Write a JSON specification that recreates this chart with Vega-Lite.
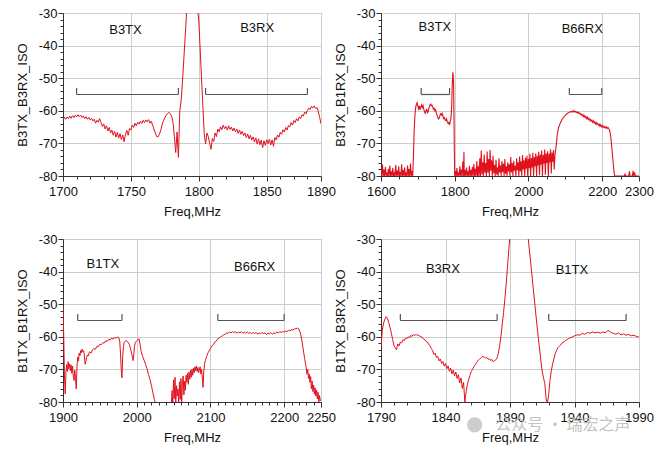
{
  "$schema": "https://vega.github.io/schema/vega-lite/v6.json",
  "padding": {"left": 15, "top": 6, "right": 4, "bottom": 3},
  "datasets": {
    "p1": [
      {"f":1700,"v":-62.8},{"f":1701,"v":-62.0},{"f":1702,"v":-62.6},{"f":1703,"v":-61.9},{"f":1704,"v":-62.4},{"f":1705,"v":-61.6},{"f":1706,"v":-62.3},{"f":1707,"v":-61.5},{"f":1708,"v":-62.1},{"f":1709,"v":-61.4},
      {"f":1710,"v":-61.9},{"f":1711,"v":-61.2},{"f":1712,"v":-61.8},{"f":1713,"v":-61.3},{"f":1714,"v":-62.0},{"f":1715,"v":-61.6},{"f":1716,"v":-62.4},{"f":1717,"v":-61.8},{"f":1718,"v":-62.6},{"f":1719,"v":-62.0},
      {"f":1720,"v":-62.8},{"f":1721,"v":-62.3},{"f":1722,"v":-63.1},{"f":1723,"v":-62.6},{"f":1724,"v":-63.8},{"f":1725,"v":-62.9},{"f":1726,"v":-63.5},{"f":1727,"v":-62.4},{"f":1728,"v":-63.6},{"f":1729,"v":-64.8},
      {"f":1730,"v":-64.0},{"f":1731,"v":-65.6},{"f":1732,"v":-64.6},{"f":1733,"v":-66.2},{"f":1734,"v":-65.1},{"f":1735,"v":-66.8},{"f":1736,"v":-65.9},{"f":1737,"v":-67.5},{"f":1738,"v":-66.3},{"f":1739,"v":-68.1},
      {"f":1740,"v":-66.6},{"f":1741,"v":-68.4},{"f":1742,"v":-67.0},{"f":1743,"v":-68.8},{"f":1744,"v":-67.4},{"f":1745,"v":-69.5},{"f":1746,"v":-67.2},{"f":1747,"v":-66.0},{"f":1748,"v":-67.5},{"f":1749,"v":-65.4},
      {"f":1750,"v":-65.9},{"f":1751,"v":-64.4},{"f":1752,"v":-65.1},{"f":1753,"v":-63.8},{"f":1754,"v":-64.6},{"f":1755,"v":-63.5},{"f":1756,"v":-64.1},{"f":1757,"v":-63.2},{"f":1758,"v":-63.9},{"f":1759,"v":-62.9},
      {"f":1760,"v":-63.6},{"f":1761,"v":-62.8},{"f":1762,"v":-63.4},{"f":1763,"v":-62.7},{"f":1764,"v":-63.8},{"f":1765,"v":-63.2},{"f":1766,"v":-64.4},{"f":1767,"v":-65.6},{"f":1768,"v":-66.8},{"f":1769,"v":-67.9},
      {"f":1770,"v":-68.0},{"f":1771,"v":-67.2},{"f":1772,"v":-66.0},{"f":1773,"v":-64.2},{"f":1774,"v":-63.0},{"f":1775,"v":-62.1},{"f":1776,"v":-61.4},{"f":1777,"v":-60.8},{"f":1778,"v":-60.5},{"f":1779,"v":-60.9},
      {"f":1780,"v":-61.6},{"f":1781,"v":-63.5},{"f":1782,"v":-67.8},{"f":1783,"v":-72.8},{"f":1784,"v":-66.5},{"f":1785,"v":-74.3},{"f":1786,"v":-60.0},{"f":1787,"v":-57.0},{"f":1788,"v":-51.0},{"f":1789,"v":-44.0},
      {"f":1790,"v":-37.0},{"f":1791,"v":-30.0},{"f":1792,"v":-24.0},{"f":1795,"v":-20.0},{"f":1798,"v":-24.0},{"f":1799,"v":-28.0},{"f":1800,"v":-32.5},{"f":1801,"v":-41.0},{"f":1802,"v":-50.0},{"f":1803,"v":-58.5},
      {"f":1804,"v":-67.0},{"f":1805,"v":-70.2},{"f":1806,"v":-66.8},{"f":1807,"v":-67.9},{"f":1808,"v":-70.0},{"f":1809,"v":-71.8},{"f":1810,"v":-68.5},{"f":1811,"v":-69.4},{"f":1812,"v":-66.8},{"f":1813,"v":-67.9},
      {"f":1814,"v":-65.6},{"f":1815,"v":-66.4},{"f":1816,"v":-64.9},{"f":1817,"v":-65.8},{"f":1818,"v":-64.4},{"f":1819,"v":-65.5},{"f":1820,"v":-64.8},{"f":1821,"v":-65.9},{"f":1822,"v":-64.6},{"f":1823,"v":-65.7},
      {"f":1824,"v":-65.0},{"f":1825,"v":-66.2},{"f":1826,"v":-65.3},{"f":1827,"v":-66.4},{"f":1828,"v":-65.6},{"f":1829,"v":-66.9},{"f":1830,"v":-65.9},{"f":1831,"v":-67.2},{"f":1832,"v":-66.3},{"f":1833,"v":-67.6},
      {"f":1834,"v":-66.8},{"f":1835,"v":-68.2},{"f":1836,"v":-67.1},{"f":1837,"v":-68.6},{"f":1838,"v":-67.5},{"f":1839,"v":-69.0},{"f":1840,"v":-68.0},{"f":1841,"v":-69.6},{"f":1842,"v":-68.3},{"f":1843,"v":-70.2},
      {"f":1844,"v":-68.6},{"f":1845,"v":-70.4},{"f":1846,"v":-69.0},{"f":1847,"v":-71.3},{"f":1848,"v":-69.2},{"f":1849,"v":-70.6},{"f":1850,"v":-68.9},{"f":1851,"v":-70.1},{"f":1852,"v":-68.7},{"f":1853,"v":-70.5},
      {"f":1854,"v":-68.9},{"f":1855,"v":-70.9},{"f":1856,"v":-68.2},{"f":1857,"v":-68.9},{"f":1858,"v":-67.4},{"f":1859,"v":-68.1},{"f":1860,"v":-66.6},{"f":1861,"v":-67.2},{"f":1862,"v":-65.8},{"f":1863,"v":-66.5},
      {"f":1864,"v":-65.1},{"f":1865,"v":-65.9},{"f":1866,"v":-64.5},{"f":1867,"v":-65.0},{"f":1868,"v":-63.6},{"f":1869,"v":-64.4},{"f":1870,"v":-63.0},{"f":1871,"v":-63.6},{"f":1872,"v":-62.4},{"f":1873,"v":-63.1},
      {"f":1874,"v":-61.9},{"f":1875,"v":-62.4},{"f":1876,"v":-61.2},{"f":1877,"v":-61.6},{"f":1878,"v":-60.4},{"f":1879,"v":-60.9},{"f":1880,"v":-59.8},{"f":1881,"v":-59.2},{"f":1882,"v":-59.6},{"f":1883,"v":-58.6},
      {"f":1884,"v":-59.1},{"f":1885,"v":-58.5},{"f":1886,"v":-59.3},{"f":1887,"v":-59.0},{"f":1888,"v":-60.2},{"f":1889,"v":-62.0},{"f":1890,"v":-64.0}
    ],
    "p2": [
      {"f":1600,"v":-78.5},{"f":1602,"v":-80},{"f":1604,"v":-76.5},{"f":1606,"v":-80},{"f":1608,"v":-78.0},{"f":1610,"v":-80},{"f":1612,"v":-77.2},{"f":1614,"v":-80},{"f":1616,"v":-79.0},{"f":1618,"v":-80},
      {"f":1620,"v":-77.8},{"f":1622,"v":-80},{"f":1624,"v":-76.8},{"f":1626,"v":-80},{"f":1628,"v":-78.6},{"f":1630,"v":-80},{"f":1632,"v":-77.5},{"f":1634,"v":-80},{"f":1636,"v":-79.2},{"f":1638,"v":-80},
      {"f":1640,"v":-76.6},{"f":1642,"v":-80},{"f":1644,"v":-78.3},{"f":1646,"v":-80},{"f":1648,"v":-77.0},{"f":1650,"v":-80},{"f":1652,"v":-78.8},{"f":1654,"v":-80},{"f":1656,"v":-76.4},{"f":1658,"v":-80},
      {"f":1660,"v":-78.2},{"f":1662,"v":-80},{"f":1664,"v":-77.4},{"f":1666,"v":-80},{"f":1668,"v":-79.0},{"f":1670,"v":-80},{"f":1672,"v":-76.8},{"f":1674,"v":-80},{"f":1676,"v":-77.9},{"f":1678,"v":-80},
      {"f":1680,"v":-76.2},{"f":1682,"v":-80},{"f":1684,"v":-78.5},{"f":1686,"v":-80},{"f":1688,"v":-74.0},{"f":1690,"v":-66.0},{"f":1692,"v":-61.5},{"f":1694,"v":-59.0},{"f":1696,"v":-58.0},{"f":1698,"v":-57.5},
      {"f":1700,"v":-58.6},{"f":1702,"v":-59.4},{"f":1704,"v":-58.5},{"f":1706,"v":-59.7},{"f":1708,"v":-58.9},{"f":1710,"v":-58.2},{"f":1712,"v":-59.0},{"f":1714,"v":-58.4},{"f":1716,"v":-59.5},{"f":1718,"v":-60.2},
      {"f":1720,"v":-60.8},{"f":1722,"v":-60.1},{"f":1724,"v":-59.4},{"f":1726,"v":-60.6},{"f":1728,"v":-60.3},{"f":1730,"v":-59.2},{"f":1732,"v":-58.5},{"f":1734,"v":-58.0},{"f":1736,"v":-58.4},{"f":1738,"v":-58.2},
      {"f":1740,"v":-58.8},{"f":1742,"v":-59.5},{"f":1744,"v":-59.2},{"f":1746,"v":-60.0},{"f":1748,"v":-59.7},{"f":1750,"v":-60.6},{"f":1752,"v":-61.4},{"f":1754,"v":-62.0},{"f":1756,"v":-62.5},{"f":1758,"v":-62.2},
      {"f":1760,"v":-61.4},{"f":1762,"v":-60.9},{"f":1764,"v":-61.3},{"f":1766,"v":-60.8},{"f":1768,"v":-61.6},{"f":1770,"v":-62.4},{"f":1772,"v":-62.1},{"f":1774,"v":-62.8},{"f":1776,"v":-63.0},{"f":1778,"v":-62.5},
      {"f":1780,"v":-63.4},{"f":1782,"v":-63.9},{"f":1784,"v":-63.6},{"f":1786,"v":-64.3},{"f":1788,"v":-63.0},{"f":1790,"v":-62.3},{"f":1792,"v":-58.0},{"f":1793,"v":-53.0},{"f":1795,"v":-48.2},{"f":1796,"v":-49.0},
      {"f":1797,"v":-52.0},{"f":1798,"v":-62.0},{"f":1799,"v":-72.0},{"f":1800,"v":-80},{"f":1802,"v":-78.5},{"f":1804,"v":-80},{"f":1806,"v":-77.6},{"f":1808,"v":-80},{"f":1810,"v":-78.9},{"f":1812,"v":-80},
      {"f":1814,"v":-77.0},{"f":1816,"v":-80},{"f":1818,"v":-78.0},{"f":1820,"v":-80},{"f":1822,"v":-75.5},{"f":1824,"v":-80},{"f":1825,"v":-72.6},{"f":1826,"v":-80},{"f":1828,"v":-78.2},{"f":1830,"v":-80},
      {"f":1832,"v":-77.4},{"f":1834,"v":-80},{"f":1836,"v":-78.6},{"f":1838,"v":-80},{"f":1840,"v":-76.9},{"f":1842,"v":-80},{"f":1844,"v":-78.1},{"f":1846,"v":-80},{"f":1848,"v":-77.2},{"f":1850,"v":-80},
      {"f":1852,"v":-76.3},{"f":1854,"v":-80},{"f":1856,"v":-77.8},{"f":1858,"v":-80},{"f":1860,"v":-75.4},{"f":1862,"v":-80},{"f":1864,"v":-77.0},{"f":1866,"v":-80},{"f":1868,"v":-74.6},{"f":1870,"v":-80},
      {"f":1872,"v":-72.2},{"f":1874,"v":-79.5},{"f":1876,"v":-75.8},{"f":1878,"v":-80},{"f":1880,"v":-73.4},{"f":1882,"v":-79.0},{"f":1884,"v":-76.0},{"f":1886,"v":-80},{"f":1888,"v":-72.5},{"f":1890,"v":-79.0},
      {"f":1892,"v":-74.8},{"f":1894,"v":-80},{"f":1896,"v":-72.0},{"f":1898,"v":-78.4},{"f":1900,"v":-75.2},{"f":1902,"v":-80},{"f":1904,"v":-73.8},{"f":1906,"v":-79.2},{"f":1908,"v":-76.6},{"f":1910,"v":-80},
      {"f":1912,"v":-75.0},{"f":1914,"v":-79.6},{"f":1916,"v":-77.4},{"f":1918,"v":-80},{"f":1920,"v":-74.6},{"f":1922,"v":-79.0},{"f":1924,"v":-76.8},{"f":1926,"v":-80},{"f":1928,"v":-75.4},{"f":1930,"v":-78.8},
      {"f":1932,"v":-76.2},{"f":1934,"v":-80},{"f":1936,"v":-74.8},{"f":1938,"v":-79.4},{"f":1940,"v":-77.0},{"f":1942,"v":-80},{"f":1944,"v":-75.8},{"f":1946,"v":-78.6},{"f":1948,"v":-76.4},{"f":1950,"v":-80},
      {"f":1952,"v":-74.2},{"f":1954,"v":-78.9},{"f":1956,"v":-76.0},{"f":1958,"v":-80},{"f":1960,"v":-75.3},{"f":1962,"v":-78.4},{"f":1964,"v":-76.9},{"f":1966,"v":-80},{"f":1968,"v":-74.6},{"f":1970,"v":-78.2},
      {"f":1972,"v":-75.8},{"f":1974,"v":-80},{"f":1976,"v":-74.0},{"f":1978,"v":-78.6},{"f":1980,"v":-75.5},{"f":1982,"v":-80},{"f":1984,"v":-73.6},{"f":1986,"v":-78.0},{"f":1988,"v":-75.2},{"f":1990,"v":-80},
      {"f":1992,"v":-74.4},{"f":1994,"v":-77.8},{"f":1996,"v":-73.8},{"f":1998,"v":-80},{"f":2000,"v":-74.8},{"f":2002,"v":-77.6},{"f":2004,"v":-73.2},{"f":2006,"v":-80},{"f":2008,"v":-74.5},{"f":2010,"v":-77.4},
      {"f":2012,"v":-72.9},{"f":2014,"v":-80},{"f":2016,"v":-74.2},{"f":2018,"v":-77.0},{"f":2020,"v":-73.0},{"f":2022,"v":-80},{"f":2024,"v":-73.8},{"f":2026,"v":-76.8},{"f":2028,"v":-72.6},{"f":2030,"v":-79.8},
      {"f":2032,"v":-73.4},{"f":2034,"v":-76.5},{"f":2036,"v":-72.2},{"f":2038,"v":-80},{"f":2040,"v":-73.6},{"f":2042,"v":-76.2},{"f":2044,"v":-71.9},{"f":2046,"v":-79.6},{"f":2048,"v":-73.0},{"f":2050,"v":-76.0},
      {"f":2052,"v":-72.4},{"f":2054,"v":-80},{"f":2056,"v":-73.2},{"f":2058,"v":-75.8},{"f":2060,"v":-71.8},{"f":2062,"v":-79.2},{"f":2064,"v":-72.8},{"f":2066,"v":-75.6},{"f":2068,"v":-72.0},{"f":2070,"v":-78.0},
      {"f":2072,"v":-73.5},{"f":2074,"v":-72.0},{"f":2076,"v":-70.0},{"f":2078,"v":-67.5},{"f":2080,"v":-66.4},{"f":2082,"v":-65.0},{"f":2084,"v":-64.6},{"f":2086,"v":-63.8},{"f":2088,"v":-63.4},{"f":2090,"v":-62.9},
      {"f":2092,"v":-62.6},{"f":2094,"v":-62.2},{"f":2096,"v":-61.9},{"f":2098,"v":-61.6},{"f":2100,"v":-61.4},{"f":2102,"v":-61.1},{"f":2104,"v":-61.0},{"f":2106,"v":-60.8},{"f":2108,"v":-60.6},{"f":2110,"v":-60.5},
      {"f":2112,"v":-60.4},{"f":2114,"v":-60.3},{"f":2116,"v":-60.2},{"f":2118,"v":-60.4},{"f":2120,"v":-60.1},{"f":2122,"v":-60.3},{"f":2124,"v":-60.0},{"f":2126,"v":-60.4},{"f":2128,"v":-60.2},{"f":2130,"v":-60.5},
      {"f":2132,"v":-60.3},{"f":2134,"v":-60.7},{"f":2136,"v":-60.5},{"f":2138,"v":-60.9},{"f":2140,"v":-60.7},{"f":2142,"v":-61.2},{"f":2144,"v":-61.0},{"f":2146,"v":-61.5},{"f":2148,"v":-61.2},{"f":2150,"v":-61.8},
      {"f":2152,"v":-61.5},{"f":2154,"v":-62.1},{"f":2156,"v":-61.8},{"f":2158,"v":-62.4},{"f":2160,"v":-62.0},{"f":2162,"v":-62.6},{"f":2164,"v":-62.3},{"f":2166,"v":-62.9},{"f":2168,"v":-62.6},{"f":2170,"v":-63.2},
      {"f":2172,"v":-62.9},{"f":2174,"v":-63.5},{"f":2176,"v":-63.1},{"f":2178,"v":-63.7},{"f":2180,"v":-63.4},{"f":2182,"v":-64.0},{"f":2184,"v":-63.6},{"f":2186,"v":-64.2},{"f":2188,"v":-63.9},{"f":2190,"v":-64.4},
      {"f":2192,"v":-64.1},{"f":2194,"v":-64.7},{"f":2196,"v":-64.3},{"f":2198,"v":-64.9},{"f":2200,"v":-64.5},{"f":2202,"v":-65.0},{"f":2204,"v":-64.7},{"f":2206,"v":-65.2},{"f":2208,"v":-64.9},{"f":2210,"v":-65.3},
      {"f":2212,"v":-65.0},{"f":2214,"v":-65.4},{"f":2216,"v":-65.1},{"f":2218,"v":-65.5},{"f":2220,"v":-65.8},{"f":2222,"v":-67.0},{"f":2224,"v":-68.5},{"f":2226,"v":-71.0},{"f":2228,"v":-73.5},{"f":2230,"v":-76.0},
      {"f":2232,"v":-78.5},{"f":2234,"v":-80},{"f":2260,"v":-80},{"f":2262,"v":-79.4},{"f":2264,"v":-80},{"f":2272,"v":-80},{"f":2274,"v":-78.6},{"f":2276,"v":-80},{"f":2282,"v":-80},{"f":2284,"v":-78.4},
      {"f":2286,"v":-80},{"f":2288,"v":-78.9},{"f":2290,"v":-80},{"f":2300,"v":-80}
    ],
    "p3": [
      {"f":1900,"v":-51.0},{"f":1901,"v":-60.0},{"f":1902,"v":-72.0},{"f":1903,"v":-77.5},{"f":1904,"v":-71.0},{"f":1905,"v":-68.5},{"f":1906,"v":-70.6},{"f":1907,"v":-67.6},{"f":1908,"v":-69.8},{"f":1909,"v":-68.3},
      {"f":1910,"v":-70.4},{"f":1911,"v":-68.6},{"f":1912,"v":-71.2},{"f":1913,"v":-69.0},{"f":1914,"v":-72.5},{"f":1915,"v":-73.4},{"f":1916,"v":-70.2},{"f":1917,"v":-72.8},{"f":1918,"v":-76.0},{"f":1919,"v":-69.0},
      {"f":1920,"v":-66.2},{"f":1921,"v":-67.4},{"f":1922,"v":-65.0},{"f":1923,"v":-65.8},{"f":1924,"v":-64.2},{"f":1925,"v":-64.9},{"f":1926,"v":-63.8},{"f":1927,"v":-64.6},{"f":1928,"v":-64.3},{"f":1929,"v":-65.8},
      {"f":1930,"v":-68.4},{"f":1931,"v":-67.6},{"f":1932,"v":-66.4},{"f":1933,"v":-65.6},{"f":1934,"v":-65.9},{"f":1936,"v":-64.6},{"f":1938,"v":-65.0},{"f":1940,"v":-64.0},{"f":1942,"v":-63.6},{"f":1944,"v":-63.8},
      {"f":1946,"v":-62.9},{"f":1948,"v":-63.0},{"f":1950,"v":-62.3},{"f":1952,"v":-62.4},{"f":1954,"v":-61.8},{"f":1956,"v":-61.9},{"f":1958,"v":-61.2},{"f":1960,"v":-61.4},{"f":1962,"v":-60.8},{"f":1964,"v":-61.0},
      {"f":1966,"v":-60.4},{"f":1968,"v":-60.7},{"f":1970,"v":-60.2},{"f":1972,"v":-60.5},{"f":1974,"v":-60.0},{"f":1976,"v":-60.4},{"f":1977,"v":-61.5},{"f":1978,"v":-65.0},{"f":1979,"v":-70.0},{"f":1980,"v":-72.6},
      {"f":1981,"v":-66.0},{"f":1982,"v":-63.0},{"f":1983,"v":-61.8},{"f":1984,"v":-61.4},{"f":1986,"v":-61.2},{"f":1988,"v":-61.6},{"f":1990,"v":-62.4},{"f":1992,"v":-64.0},{"f":1994,"v":-66.0},{"f":1995,"v":-67.3},
      {"f":1996,"v":-65.5},{"f":1997,"v":-63.0},{"f":1998,"v":-61.8},{"f":2000,"v":-61.2},{"f":2002,"v":-60.8},{"f":2003,"v":-60.6},{"f":2004,"v":-61.6},{"f":2006,"v":-64.5},{"f":2008,"v":-66.0},{"f":2010,"v":-67.2},
      {"f":2012,"v":-68.4},{"f":2014,"v":-69.8},{"f":2016,"v":-71.6},{"f":2018,"v":-73.0},{"f":2020,"v":-75.0},{"f":2022,"v":-77.2},{"f":2024,"v":-79.2},{"f":2026,"v":-81},{"f":2045,"v":-81},{"f":2047,"v":-80.5},
      {"f":2048,"v":-76.5},{"f":2049,"v":-80.5},{"f":2050,"v":-73.2},{"f":2051,"v":-79.0},{"f":2052,"v":-72.4},{"f":2053,"v":-80.5},{"f":2054,"v":-75.0},{"f":2055,"v":-78.2},{"f":2056,"v":-76.0},{"f":2057,"v":-80.5},
      {"f":2058,"v":-73.8},{"f":2059,"v":-79.2},{"f":2060,"v":-72.8},{"f":2061,"v":-80.5},{"f":2062,"v":-74.6},{"f":2063,"v":-72.0},{"f":2064,"v":-77.8},{"f":2065,"v":-73.6},{"f":2066,"v":-76.4},{"f":2067,"v":-71.8},
      {"f":2068,"v":-74.0},{"f":2069,"v":-71.2},{"f":2070,"v":-74.6},{"f":2071,"v":-70.8},{"f":2072,"v":-73.0},{"f":2073,"v":-70.2},{"f":2074,"v":-72.4},{"f":2075,"v":-70.0},{"f":2076,"v":-71.8},{"f":2077,"v":-69.6},
      {"f":2078,"v":-71.0},{"f":2079,"v":-69.2},{"f":2080,"v":-70.4},{"f":2081,"v":-69.0},{"f":2082,"v":-70.6},{"f":2083,"v":-69.4},{"f":2084,"v":-71.0},{"f":2085,"v":-70.2},{"f":2086,"v":-69.2},{"f":2087,"v":-71.4},
      {"f":2088,"v":-70.0},{"f":2089,"v":-72.6},{"f":2090,"v":-75.5},{"f":2091,"v":-70.5},{"f":2092,"v":-68.4},{"f":2093,"v":-67.4},{"f":2094,"v":-66.6},{"f":2095,"v":-66.0},{"f":2096,"v":-65.2},{"f":2098,"v":-64.4},
      {"f":2100,"v":-63.6},{"f":2102,"v":-62.8},{"f":2104,"v":-62.4},{"f":2106,"v":-61.6},{"f":2108,"v":-61.3},{"f":2110,"v":-60.6},{"f":2112,"v":-60.4},{"f":2114,"v":-59.9},{"f":2116,"v":-59.8},{"f":2118,"v":-59.3},
      {"f":2120,"v":-59.2},{"f":2122,"v":-58.8},{"f":2124,"v":-58.9},{"f":2126,"v":-58.5},{"f":2128,"v":-58.8},{"f":2130,"v":-58.4},{"f":2132,"v":-58.7},{"f":2134,"v":-58.5},{"f":2136,"v":-58.9},{"f":2138,"v":-58.6},
      {"f":2140,"v":-58.8},{"f":2142,"v":-58.4},{"f":2144,"v":-58.9},{"f":2146,"v":-58.6},{"f":2148,"v":-59.0},{"f":2150,"v":-58.5},{"f":2152,"v":-58.9},{"f":2154,"v":-58.7},{"f":2156,"v":-59.1},{"f":2158,"v":-58.6},
      {"f":2160,"v":-59.0},{"f":2162,"v":-58.7},{"f":2164,"v":-59.2},{"f":2166,"v":-58.8},{"f":2168,"v":-59.1},{"f":2170,"v":-58.6},{"f":2172,"v":-59.0},{"f":2174,"v":-58.8},{"f":2176,"v":-59.3},{"f":2178,"v":-58.9},
      {"f":2180,"v":-59.1},{"f":2182,"v":-58.7},{"f":2184,"v":-59.2},{"f":2186,"v":-58.8},{"f":2188,"v":-59.0},{"f":2190,"v":-58.5},{"f":2192,"v":-58.9},{"f":2194,"v":-58.4},{"f":2196,"v":-58.7},{"f":2198,"v":-58.3},
      {"f":2200,"v":-58.6},{"f":2202,"v":-58.2},{"f":2204,"v":-58.4},{"f":2206,"v":-58.0},{"f":2208,"v":-58.2},{"f":2210,"v":-57.8},{"f":2212,"v":-57.9},{"f":2214,"v":-57.5},{"f":2216,"v":-57.6},{"f":2218,"v":-57.3},
      {"f":2220,"v":-57.6},{"f":2222,"v":-58.8},{"f":2224,"v":-61.0},{"f":2226,"v":-64.0},{"f":2228,"v":-67.0},{"f":2230,"v":-69.5},{"f":2231,"v":-71.5},{"f":2232,"v":-70.0},{"f":2233,"v":-72.8},{"f":2234,"v":-71.4},
      {"f":2235,"v":-74.0},{"f":2236,"v":-72.2},{"f":2237,"v":-76.0},{"f":2238,"v":-73.6},{"f":2239,"v":-76.8},{"f":2240,"v":-74.8},{"f":2241,"v":-77.6},{"f":2242,"v":-75.6},{"f":2243,"v":-78.2},{"f":2244,"v":-76.4},
      {"f":2245,"v":-79.0},{"f":2246,"v":-77.0},{"f":2247,"v":-80.0},{"f":2248,"v":-78.0},{"f":2249,"v":-79.6},{"f":2250,"v":-79.2}
    ],
    "p4": [
      {"f":1790,"v":-63.0},{"f":1791,"v":-58.0},{"f":1792,"v":-55.8},{"f":1793,"v":-54.6},{"f":1794,"v":-53.8},{"f":1795,"v":-54.4},{"f":1796,"v":-55.6},{"f":1797,"v":-57.2},{"f":1798,"v":-58.8},{"f":1799,"v":-60.8},
      {"f":1800,"v":-62.6},{"f":1801,"v":-63.4},{"f":1802,"v":-64.0},{"f":1803,"v":-62.2},{"f":1804,"v":-62.8},{"f":1805,"v":-61.6},{"f":1806,"v":-61.9},{"f":1807,"v":-60.9},{"f":1808,"v":-61.2},{"f":1809,"v":-60.4},
      {"f":1810,"v":-60.6},{"f":1811,"v":-60.0},{"f":1812,"v":-60.3},{"f":1813,"v":-59.6},{"f":1814,"v":-59.9},{"f":1815,"v":-59.3},{"f":1816,"v":-59.7},{"f":1817,"v":-59.2},{"f":1818,"v":-59.6},{"f":1819,"v":-59.4},
      {"f":1820,"v":-59.8},{"f":1821,"v":-60.0},{"f":1822,"v":-60.2},{"f":1823,"v":-60.7},{"f":1824,"v":-60.9},{"f":1825,"v":-61.5},{"f":1826,"v":-61.6},{"f":1827,"v":-62.4},{"f":1828,"v":-62.7},{"f":1829,"v":-63.6},
      {"f":1830,"v":-64.2},{"f":1831,"v":-65.4},{"f":1832,"v":-65.0},{"f":1833,"v":-66.4},{"f":1834,"v":-66.0},{"f":1835,"v":-67.4},{"f":1836,"v":-66.8},{"f":1837,"v":-68.2},{"f":1838,"v":-67.6},{"f":1839,"v":-69.0},
      {"f":1840,"v":-68.2},{"f":1841,"v":-69.8},{"f":1842,"v":-68.9},{"f":1843,"v":-70.6},{"f":1844,"v":-69.6},{"f":1845,"v":-71.4},{"f":1846,"v":-70.2},{"f":1847,"v":-72.0},{"f":1848,"v":-70.8},{"f":1849,"v":-72.8},
      {"f":1850,"v":-71.6},{"f":1851,"v":-74.2},{"f":1852,"v":-72.6},{"f":1853,"v":-75.8},{"f":1854,"v":-74.0},{"f":1855,"v":-80.0},{"f":1856,"v":-76.8},{"f":1857,"v":-74.6},{"f":1858,"v":-73.0},{"f":1859,"v":-71.8},
      {"f":1860,"v":-70.6},{"f":1861,"v":-70.0},{"f":1862,"v":-69.2},{"f":1863,"v":-68.6},{"f":1864,"v":-68.0},{"f":1865,"v":-67.4},{"f":1866,"v":-67.0},{"f":1867,"v":-66.6},{"f":1868,"v":-66.3},{"f":1869,"v":-66.0},
      {"f":1870,"v":-66.2},{"f":1871,"v":-66.5},{"f":1872,"v":-66.4},{"f":1873,"v":-66.9},{"f":1874,"v":-66.7},{"f":1875,"v":-67.2},{"f":1876,"v":-67.0},{"f":1877,"v":-67.6},{"f":1878,"v":-67.4},{"f":1879,"v":-67.0},
      {"f":1880,"v":-66.4},{"f":1881,"v":-65.0},{"f":1882,"v":-62.6},{"f":1883,"v":-59.8},{"f":1884,"v":-56.0},{"f":1885,"v":-52.5},{"f":1886,"v":-48.6},{"f":1887,"v":-44.0},{"f":1888,"v":-39.0},{"f":1889,"v":-33.5},
      {"f":1890,"v":-29.0},{"f":1895,"v":-22.0},{"f":1900,"v":-22.0},{"f":1904,"v":-29.5},{"f":1906,"v":-37.0},{"f":1908,"v":-45.0},{"f":1910,"v":-53.0},{"f":1912,"v":-60.5},{"f":1914,"v":-67.5},{"f":1915,"v":-70.8},
      {"f":1916,"v":-72.6},{"f":1917,"v":-74.4},{"f":1918,"v":-79.0},{"f":1919,"v":-80.5},{"f":1920,"v":-77.6},{"f":1921,"v":-73.4},{"f":1922,"v":-70.5},{"f":1923,"v":-68.4},{"f":1924,"v":-66.8},{"f":1925,"v":-65.2},
      {"f":1926,"v":-64.3},{"f":1927,"v":-63.4},{"f":1928,"v":-63.0},{"f":1929,"v":-62.6},{"f":1930,"v":-62.0},{"f":1932,"v":-61.5},{"f":1934,"v":-60.9},{"f":1936,"v":-60.4},{"f":1938,"v":-60.1},{"f":1940,"v":-59.7},
      {"f":1942,"v":-59.4},{"f":1944,"v":-59.5},{"f":1946,"v":-59.0},{"f":1948,"v":-59.2},{"f":1950,"v":-58.7},{"f":1952,"v":-58.9},{"f":1954,"v":-58.5},{"f":1956,"v":-58.8},{"f":1958,"v":-58.6},{"f":1960,"v":-58.9},
      {"f":1962,"v":-58.5},{"f":1964,"v":-58.8},{"f":1966,"v":-58.0},{"f":1968,"v":-58.6},{"f":1970,"v":-58.9},{"f":1972,"v":-59.2},{"f":1974,"v":-58.8},{"f":1976,"v":-59.4},{"f":1978,"v":-59.1},{"f":1980,"v":-59.5},
      {"f":1982,"v":-59.3},{"f":1984,"v":-59.7},{"f":1986,"v":-59.5},{"f":1988,"v":-59.9},{"f":1990,"v":-60.1}
    ],
    "brackets": [
      {"panel":"p1","f":1710,"f2":1785,"v":-55,"v2":-53},
      {"panel":"p1","f":1805,"f2":1880,"v":-55,"v2":-53},
      {"panel":"p2","f":1709,"f2":1786,"v":-55,"v2":-53},
      {"panel":"p2","f":2111,"f2":2199,"v":-55,"v2":-53},
      {"panel":"p3","f":1920,"f2":1980,"v":-55,"v2":-53},
      {"panel":"p3","f":2110,"f2":2200,"v":-55,"v2":-53},
      {"panel":"p4","f":1805,"f2":1880,"v":-55,"v2":-53},
      {"panel":"p4","f":1920,"f2":1980,"v":-55,"v2":-53}
    ],
    "labels": [
      {"panel":"p1","f":1746,"v":-35.2,"label":"B3TX"},
      {"panel":"p1","f":1843,"v":-34.6,"label":"B3RX"},
      {"panel":"p2","f":1746,"v":-34.3,"label":"B3TX"},
      {"panel":"p2","f":2146,"v":-35.0,"label":"B66RX"},
      {"panel":"p3","f":1954,"v":-37.7,"label":"B1TX"},
      {"panel":"p3","f":2160,"v":-38.7,"label":"B66RX"},
      {"panel":"p4","f":1838,"v":-39.2,"label":"B3RX"},
      {"panel":"p4","f":1938,"v":-39.5,"label":"B1TX"}
    ],
    "watermark": [
      {"f":1931,"v":-87.0,"label":"公众号 · 瑞宏之声","icon":1862.6}
    ]
  },
  "columns": 2,
  "bounds": "flush",
  "spacing": {"row": 63, "column": 60},
  "concat": [
    {
      "width": 258,
      "height": 163,
      "resolve": {"axis": {"x": "independent", "y": "independent"}},
      "layer": [
        {
          "data": {"name": "p1"},
          "mark": {"type": "line", "color": "#e0121e", "strokeWidth": 1, "clip": true},
          "encoding": {
            "x": {"field": "f", "type": "quantitative", "title": "Freq,MHz",
              "scale": {"domain": [1700, 1890], "nice": false, "zero": false},
              "axis": {"orient": "bottom", "values": [1700,1750,1800,1850,1890], "labelExpr": "'' + datum.value"}},
            "y": {"field": "v", "type": "quantitative", "title": "B3TX_B3RX_ISO",
              "scale": {"domain": [-80, -30], "nice": false, "zero": false},
              "axis": {"orient": "left", "values": [-80,-70,-60,-50,-40,-30], "labelExpr": "'' + datum.value"}}
          }
        },
        {
          "data": {"name": "p1"},
          "mark": {"type": "line", "strokeOpacity": 0, "clip": true},
          "encoding": {
            "x": {"field": "f", "type": "quantitative",
              "axis": {"orient": "bottom", "title": null, "labels": false, "grid": false, "domain": false, "tickSize": 3,
                "values": [1710,1720,1730,1740,1760,1770,1780,1790,1810,1820,1830,1840,1860,1870,1880]}},
            "y": {"field": "v", "type": "quantitative",
              "axis": {"orient": "left", "title": null, "labels": false, "grid": false, "domain": false, "tickSize": 3,
                "values": [-78,-76,-74,-72,-68,-66,-64,-62,-58,-56,-54,-52,-48,-46,-44,-42,-38,-36,-34,-32]}}
          }
        },
        {
          "data": {"name": "brackets"},
          "transform": [{"filter": "datum.panel === 'p1'"}],
          "mark": {"type": "rule", "color": "#555", "strokeWidth": 1.2},
          "encoding": {
            "x": {"field": "f", "type": "quantitative", "axis": null},
            "x2": {"field": "f2"},
            "y": {"field": "v", "type": "quantitative", "axis": null}
          }
        },
        {
          "data": {"name": "brackets"},
          "transform": [{"filter": "datum.panel === 'p1'"}],
          "mark": {"type": "rule", "color": "#555", "strokeWidth": 1.2},
          "encoding": {
            "x": {"field": "f", "type": "quantitative", "axis": null},
            "y": {"field": "v", "type": "quantitative", "axis": null},
            "y2": {"field": "v2"}
          }
        },
        {
          "data": {"name": "brackets"},
          "transform": [{"filter": "datum.panel === 'p1'"}],
          "mark": {"type": "rule", "color": "#555", "strokeWidth": 1.2},
          "encoding": {
            "x": {"field": "f2", "type": "quantitative", "axis": null},
            "y": {"field": "v", "type": "quantitative", "axis": null},
            "y2": {"field": "v2"}
          }
        },
        {
          "data": {"name": "labels"},
          "transform": [{"filter": "datum.panel === 'p1'"}],
          "mark": {"type": "text", "fontSize": 13, "color": "#111", "align": "center", "baseline": "middle"},
          "encoding": {
            "x": {"field": "f", "type": "quantitative", "axis": null},
            "y": {"field": "v", "type": "quantitative", "axis": null},
            "text": {"field": "label"}
          }
        }
      ]
    },
    {
      "width": 258,
      "height": 163,
      "resolve": {"axis": {"x": "independent", "y": "independent"}},
      "layer": [
        {
          "data": {"name": "p2"},
          "mark": {"type": "line", "color": "#e0121e", "strokeWidth": 1.1, "clip": true},
          "encoding": {
            "x": {"field": "f", "type": "quantitative", "title": "Freq,MHz",
              "scale": {"domain": [1600, 2300], "nice": false, "zero": false},
              "axis": {"orient": "bottom", "values": [1600,1800,2000,2200,2300], "labelExpr": "'' + datum.value"}},
            "y": {"field": "v", "type": "quantitative", "title": "B3TX_B1RX_ISO",
              "scale": {"domain": [-80, -30], "nice": false, "zero": false},
              "axis": {"orient": "left", "values": [-80,-70,-60,-50,-40,-30], "labelExpr": "'' + datum.value"}}
          }
        },
        {
          "data": {"name": "p2"},
          "mark": {"type": "line", "strokeOpacity": 0, "clip": true},
          "encoding": {
            "x": {"field": "f", "type": "quantitative",
              "axis": {"orient": "bottom", "title": null, "labels": false, "grid": false, "domain": false, "tickSize": 3,
                "values": [1650,1700,1750,1850,1900,1950,2050,2100,2150,2250]}},
            "y": {"field": "v", "type": "quantitative",
              "axis": {"orient": "left", "title": null, "labels": false, "grid": false, "domain": false, "tickSize": 3,
                "values": [-78,-76,-74,-72,-68,-66,-64,-62,-58,-56,-54,-52,-48,-46,-44,-42,-38,-36,-34,-32]}}
          }
        },
        {
          "data": {"name": "brackets"},
          "transform": [{"filter": "datum.panel === 'p2'"}],
          "mark": {"type": "rule", "color": "#555", "strokeWidth": 1.2},
          "encoding": {
            "x": {"field": "f", "type": "quantitative", "axis": null},
            "x2": {"field": "f2"},
            "y": {"field": "v", "type": "quantitative", "axis": null}
          }
        },
        {
          "data": {"name": "brackets"},
          "transform": [{"filter": "datum.panel === 'p2'"}],
          "mark": {"type": "rule", "color": "#555", "strokeWidth": 1.2},
          "encoding": {
            "x": {"field": "f", "type": "quantitative", "axis": null},
            "y": {"field": "v", "type": "quantitative", "axis": null},
            "y2": {"field": "v2"}
          }
        },
        {
          "data": {"name": "brackets"},
          "transform": [{"filter": "datum.panel === 'p2'"}],
          "mark": {"type": "rule", "color": "#555", "strokeWidth": 1.2},
          "encoding": {
            "x": {"field": "f2", "type": "quantitative", "axis": null},
            "y": {"field": "v", "type": "quantitative", "axis": null},
            "y2": {"field": "v2"}
          }
        },
        {
          "data": {"name": "labels"},
          "transform": [{"filter": "datum.panel === 'p2'"}],
          "mark": {"type": "text", "fontSize": 13, "color": "#111", "align": "center", "baseline": "middle"},
          "encoding": {
            "x": {"field": "f", "type": "quantitative", "axis": null},
            "y": {"field": "v", "type": "quantitative", "axis": null},
            "text": {"field": "label"}
          }
        }
      ]
    },
    {
      "width": 258,
      "height": 163,
      "resolve": {"axis": {"x": "independent", "y": "independent"}},
      "layer": [
        {
          "data": {"name": "p3"},
          "mark": {"type": "line", "color": "#e0121e", "strokeWidth": 1, "clip": true},
          "encoding": {
            "x": {"field": "f", "type": "quantitative", "title": "Freq,MHz",
              "scale": {"domain": [1900, 2250], "nice": false, "zero": false},
              "axis": {"orient": "bottom", "values": [1900,2000,2100,2200,2250], "labelExpr": "'' + datum.value"}},
            "y": {"field": "v", "type": "quantitative", "title": "B1TX_B1RX_ISO",
              "scale": {"domain": [-80, -30], "nice": false, "zero": false},
              "axis": {"orient": "left", "values": [-80,-70,-60,-50,-40,-30], "labelExpr": "'' + datum.value"}}
          }
        },
        {
          "data": {"name": "p3"},
          "mark": {"type": "line", "strokeOpacity": 0, "clip": true},
          "encoding": {
            "x": {"field": "f", "type": "quantitative",
              "axis": {"orient": "bottom", "title": null, "labels": false, "grid": false, "domain": false, "tickSize": 3,
                "values": [1910,1920,1930,1940,1950,1960,1970,1980,1990,2010,2020,2030,2040,2050,2060,2070,2080,2090,2110,2120,2130,2140,2150,2160,2170,2180,2190,2210,2220,2230,2240]}},
            "y": {"field": "v", "type": "quantitative",
              "axis": {"orient": "left", "title": null, "labels": false, "grid": false, "domain": false, "tickSize": 3,
                "values": [-78,-76,-74,-72,-68,-66,-64,-62,-58,-56,-54,-52,-48,-46,-44,-42,-38,-36,-34,-32]}}
          }
        },
        {
          "data": {"name": "brackets"},
          "transform": [{"filter": "datum.panel === 'p3'"}],
          "mark": {"type": "rule", "color": "#555", "strokeWidth": 1.2},
          "encoding": {
            "x": {"field": "f", "type": "quantitative", "axis": null},
            "x2": {"field": "f2"},
            "y": {"field": "v", "type": "quantitative", "axis": null}
          }
        },
        {
          "data": {"name": "brackets"},
          "transform": [{"filter": "datum.panel === 'p3'"}],
          "mark": {"type": "rule", "color": "#555", "strokeWidth": 1.2},
          "encoding": {
            "x": {"field": "f", "type": "quantitative", "axis": null},
            "y": {"field": "v", "type": "quantitative", "axis": null},
            "y2": {"field": "v2"}
          }
        },
        {
          "data": {"name": "brackets"},
          "transform": [{"filter": "datum.panel === 'p3'"}],
          "mark": {"type": "rule", "color": "#555", "strokeWidth": 1.2},
          "encoding": {
            "x": {"field": "f2", "type": "quantitative", "axis": null},
            "y": {"field": "v", "type": "quantitative", "axis": null},
            "y2": {"field": "v2"}
          }
        },
        {
          "data": {"name": "labels"},
          "transform": [{"filter": "datum.panel === 'p3'"}],
          "mark": {"type": "text", "fontSize": 13, "color": "#111", "align": "center", "baseline": "middle"},
          "encoding": {
            "x": {"field": "f", "type": "quantitative", "axis": null},
            "y": {"field": "v", "type": "quantitative", "axis": null},
            "text": {"field": "label"}
          }
        }
      ]
    },
    {
      "width": 258,
      "height": 163,
      "resolve": {"axis": {"x": "independent", "y": "independent"}},
      "layer": [
        {
          "data": {"name": "p4"},
          "mark": {"type": "line", "color": "#e0121e", "strokeWidth": 1, "clip": true},
          "encoding": {
            "x": {"field": "f", "type": "quantitative", "title": "Freq,MHz",
              "scale": {"domain": [1790, 1990], "nice": false, "zero": false},
              "axis": {"orient": "bottom", "values": [1790,1840,1890,1940,1990], "labelExpr": "'' + datum.value"}},
            "y": {"field": "v", "type": "quantitative", "title": "B1TX_B3RX_ISO",
              "scale": {"domain": [-80, -30], "nice": false, "zero": false},
              "axis": {"orient": "left", "values": [-80,-70,-60,-50,-40,-30], "labelExpr": "'' + datum.value"}}
          }
        },
        {
          "data": {"name": "p4"},
          "mark": {"type": "line", "strokeOpacity": 0, "clip": true},
          "encoding": {
            "x": {"field": "f", "type": "quantitative",
              "axis": {"orient": "bottom", "title": null, "labels": false, "grid": false, "domain": false, "tickSize": 3,
                "values": [1800,1810,1820,1830,1850,1860,1870,1880,1900,1910,1920,1930,1950,1960,1970,1980]}},
            "y": {"field": "v", "type": "quantitative",
              "axis": {"orient": "left", "title": null, "labels": false, "grid": false, "domain": false, "tickSize": 3,
                "values": [-78,-76,-74,-72,-68,-66,-64,-62,-58,-56,-54,-52,-48,-46,-44,-42,-38,-36,-34,-32]}}
          }
        },
        {
          "data": {"name": "brackets"},
          "transform": [{"filter": "datum.panel === 'p4'"}],
          "mark": {"type": "rule", "color": "#555", "strokeWidth": 1.2},
          "encoding": {
            "x": {"field": "f", "type": "quantitative", "axis": null},
            "x2": {"field": "f2"},
            "y": {"field": "v", "type": "quantitative", "axis": null}
          }
        },
        {
          "data": {"name": "brackets"},
          "transform": [{"filter": "datum.panel === 'p4'"}],
          "mark": {"type": "rule", "color": "#555", "strokeWidth": 1.2},
          "encoding": {
            "x": {"field": "f", "type": "quantitative", "axis": null},
            "y": {"field": "v", "type": "quantitative", "axis": null},
            "y2": {"field": "v2"}
          }
        },
        {
          "data": {"name": "brackets"},
          "transform": [{"filter": "datum.panel === 'p4'"}],
          "mark": {"type": "rule", "color": "#555", "strokeWidth": 1.2},
          "encoding": {
            "x": {"field": "f2", "type": "quantitative", "axis": null},
            "y": {"field": "v", "type": "quantitative", "axis": null},
            "y2": {"field": "v2"}
          }
        },
        {
          "data": {"name": "labels"},
          "transform": [{"filter": "datum.panel === 'p4'"}],
          "mark": {"type": "text", "fontSize": 13, "color": "#111", "align": "center", "baseline": "middle"},
          "encoding": {
            "x": {"field": "f", "type": "quantitative", "axis": null},
            "y": {"field": "v", "type": "quantitative", "axis": null},
            "text": {"field": "label"}
          }
        },
        {
          "data": {"name": "watermark"},
          "mark": {"type": "point", "shape": "circle", "filled": true, "size": 230, "color": "#c4c4c4", "opacity": 0.85, "clip": false},
          "encoding": {
            "x": {"field": "icon", "type": "quantitative", "axis": null},
            "y": {"field": "v", "type": "quantitative", "axis": null}
          }
        },
        {
          "data": {"name": "watermark"},
          "mark": {"type": "text", "font": "Noto Sans CJK SC", "fontSize": 16, "color": "#bdbdbd", "opacity": 0.9, "align": "center", "baseline": "middle", "clip": false},
          "encoding": {
            "x": {"field": "f", "type": "quantitative", "axis": null},
            "y": {"field": "v", "type": "quantitative", "axis": null},
            "text": {"field": "label"}
          }
        }
      ]
    }
  ],
  "config": {
    "font": "Liberation Sans",
    "view": {"stroke": "#b4b4b4"},
    "text": {"font": "Liberation Sans"},
    "axis": {
      "labelFont": "Liberation Sans",
      "labelFontSize": 13,
      "labelColor": "#111",
      "titleFont": "Liberation Sans",
      "titleFontSize": 13,
      "titleFontWeight": "normal",
      "titleColor": "#111",
      "domainColor": "#333",
      "tickColor": "#333",
      "tickSize": 5,
      "gridColor": "#cdcdcd",
      "labelFlush": false,
      "labelOverlap": false
    },
    "axisX": {"labelPadding": 4, "titlePadding": 7},
    "axisY": {"labelPadding": 1, "titlePadding": 9}
  }
}
